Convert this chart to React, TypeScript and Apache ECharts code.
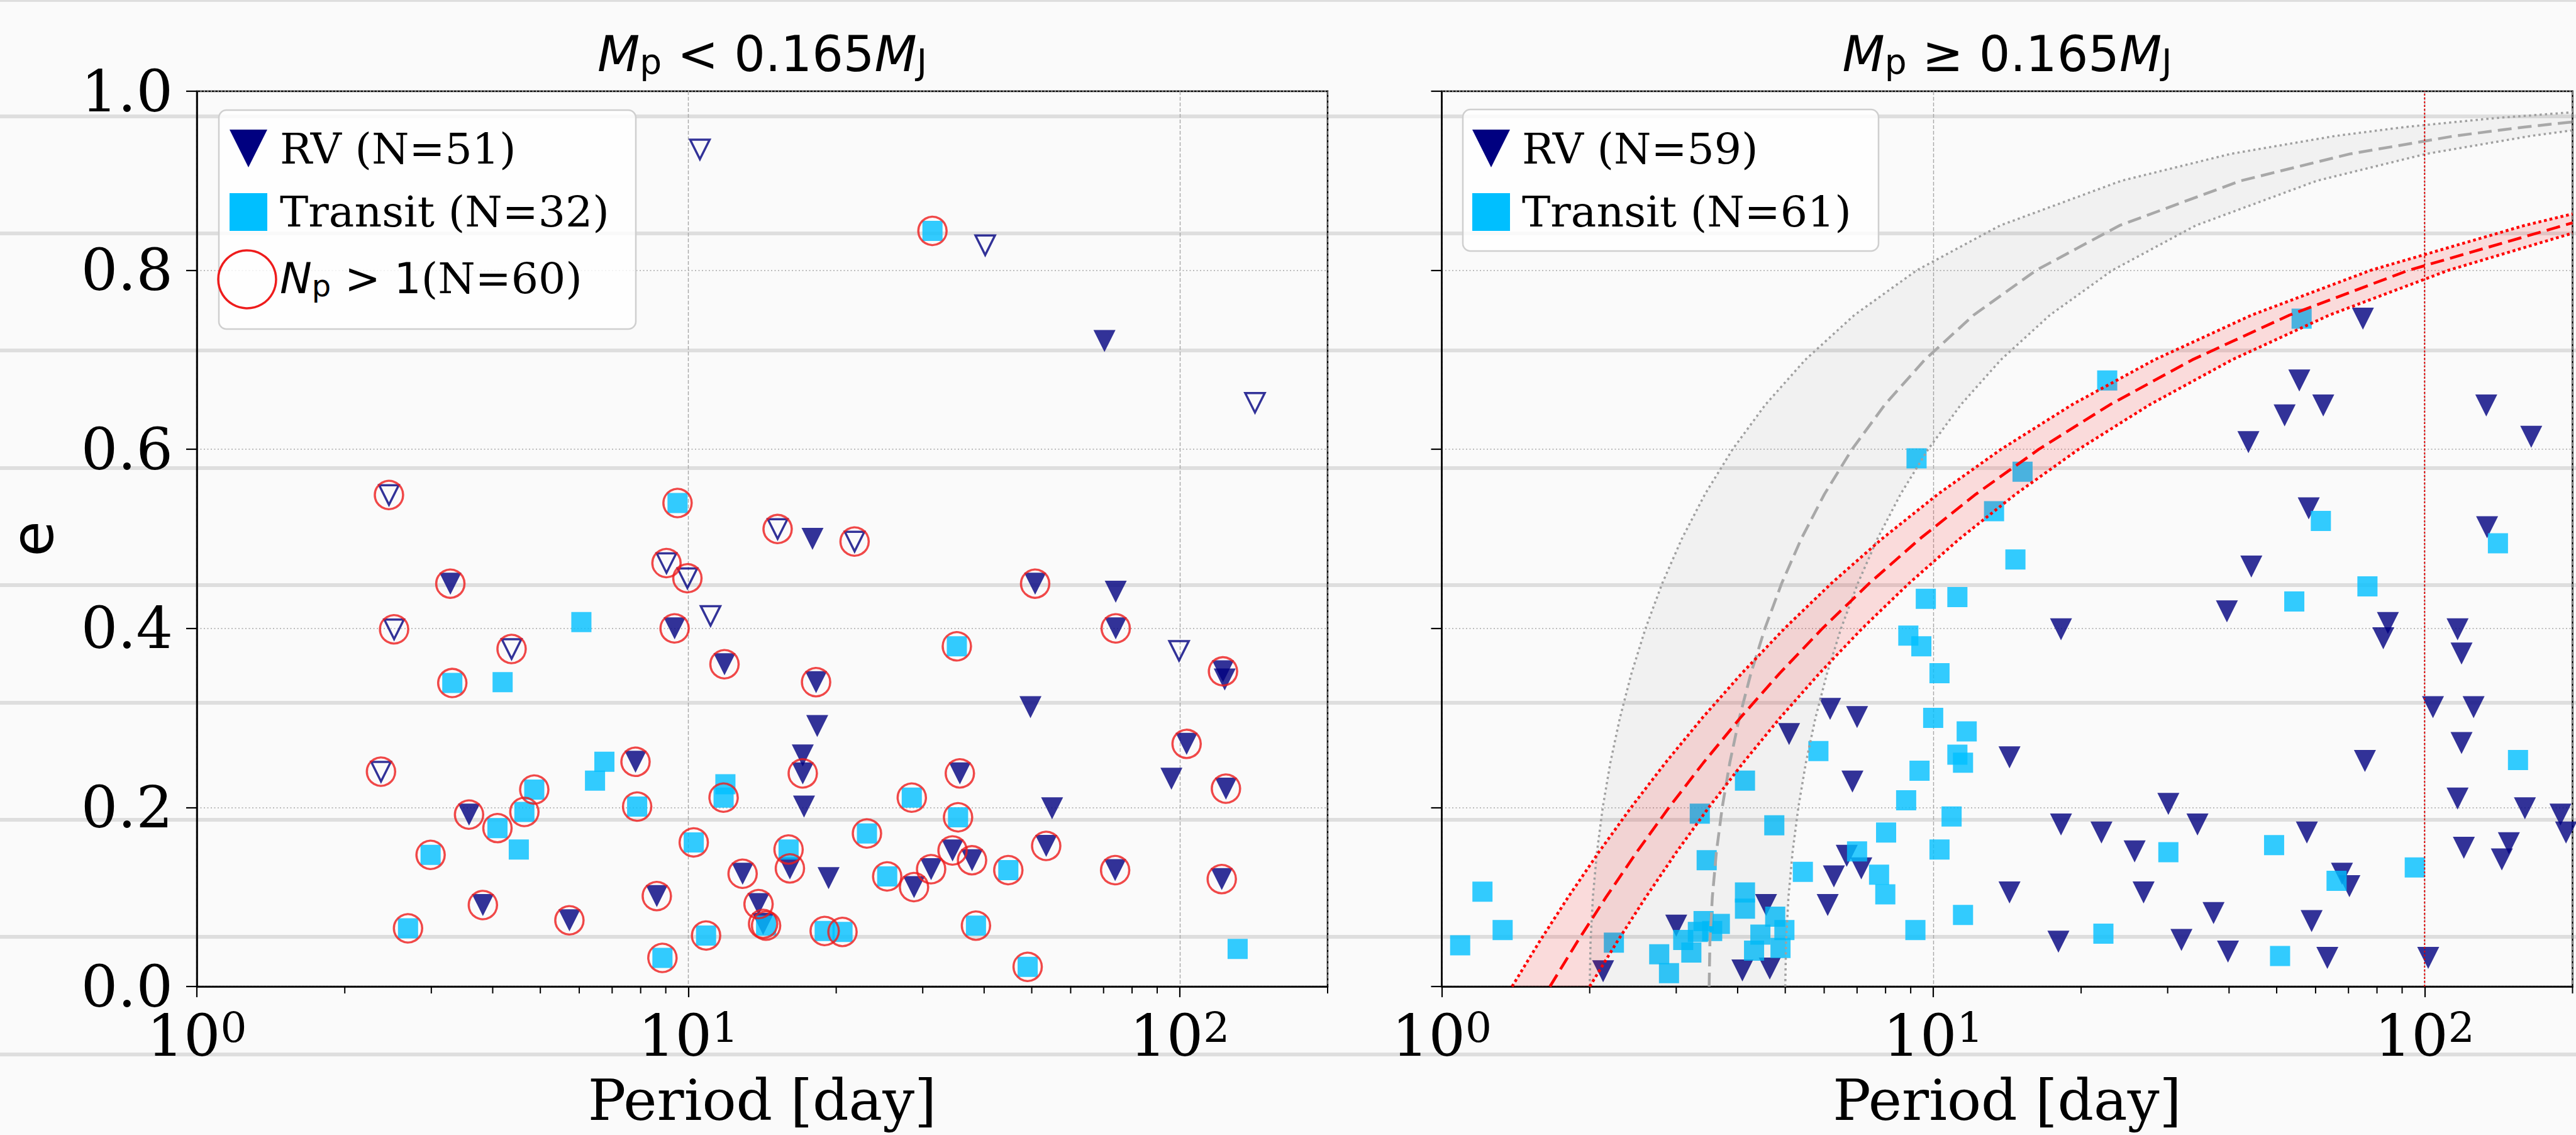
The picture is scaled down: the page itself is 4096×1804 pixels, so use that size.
import React, { useEffect, useRef } from "react";
import * as echarts from "echarts";

// ---------- Left panel (M_p < 0.165 M_J): [period (day), eccentricity, N_p>1 flag] ----------
const lowRvFilled: number[][] = [
  [3.28, 0.45, 1], [9.38, 0.4, 1], [70.3, 0.721, 0], [17.9, 0.5, 0],
  [11.85, 0.36, 1], [18.2, 0.34, 1], [18.3, 0.291, 0], [50.8, 0.45, 1],
  [74.1, 0.441, 0], [74.1, 0.4, 1], [122.5, 0.352, 1], [123.5, 0.343, 0],
  [49.7, 0.312, 0], [103.3, 0.271, 1], [96.2, 0.232, 0], [124.2, 0.221, 1],
  [17.1, 0.238, 1], [17.1, 0.258, 0], [35.7, 0.238, 1], [17.2, 0.201, 0],
  [55.0, 0.199, 0], [53.5, 0.157, 1], [7.81, 0.251, 1], [3.58, 0.192, 1],
  [12.9, 0.126, 1], [3.82, 0.091, 1], [5.73, 0.074, 1], [8.63, 0.101, 1],
  [16.1, 0.132, 1], [19.3, 0.121, 0], [31.2, 0.131, 1], [28.8, 0.111, 1],
  [34.5, 0.152, 1], [37.8, 0.141, 1], [73.9, 0.13, 1], [121.8, 0.12, 1],
  [13.9, 0.092, 1], [14.2, 0.07, 1],
];
const lowRvOpen: number[][] = [
  [2.37, 0.24, 1], [2.46, 0.549, 1], [2.52, 0.399, 1], [4.37, 0.377, 1],
  [9.03, 0.473, 1], [9.96, 0.456, 1], [11.1, 0.414, 0], [10.56, 0.935, 0],
  [40.2, 0.828, 0], [142.3, 0.652, 0], [15.2, 0.511, 1], [21.8, 0.497, 1],
  [99.7, 0.375, 0],
];
const lowTransit: number[][] = [
  [3.31, 0.339, 1], [4.19, 0.34, 0], [6.06, 0.407, 0], [9.51, 0.54, 1],
  [31.4, 0.844, 1], [35.2, 0.38, 1], [11.9, 0.226, 0], [11.8, 0.211, 1],
  [28.5, 0.211, 1], [35.4, 0.189, 1], [10.26, 0.161, 1], [16.0, 0.153, 1],
  [23.1, 0.171, 1], [6.75, 0.251, 0], [6.46, 0.23, 0], [4.86, 0.22, 1],
  [4.64, 0.195, 1], [4.09, 0.177, 1], [4.52, 0.153, 0], [7.87, 0.201, 1],
  [2.99, 0.147, 1], [2.69, 0.065, 1], [8.86, 0.032, 1], [10.87, 0.057, 1],
  [25.4, 0.123, 1], [44.8, 0.13, 1], [18.95, 0.062, 1], [20.6, 0.061, 1],
  [38.5, 0.068, 1], [49.05, 0.022, 1], [131.2, 0.042, 0], [14.4, 0.068, 1],
];

// ---------- Right panel (M_p >= 0.165 M_J): [period (day), eccentricity] ----------
const highRv: number[][] = [
  [6.17, 0.31], [7.0, 0.301], [5.09, 0.282], [14.3, 0.256], [6.85, 0.229],
  [6.67, 0.146], [7.14, 0.132], [6.28, 0.123], [6.1, 0.091], [14.3, 0.105],
  [2.13, 0.017], [3.0, 0.068], [4.57, 0.091], [4.09, 0.018], [4.65, 0.02],
  [58.1, 0.534], [134, 0.513], [44.4, 0.469], [39.6, 0.419], [18.2, 0.399],
  [84.2, 0.406], [82.4, 0.389], [116.7, 0.399], [118.9, 0.372], [104, 0.312],
  [125.8, 0.312], [118.9, 0.272], [75.6, 0.252], [116.7, 0.21], [160, 0.199],
  [189, 0.192], [194, 0.172], [30.1, 0.204], [18.2, 0.181], [22.0, 0.172],
  [34.5, 0.181], [57.6, 0.172], [25.7, 0.151], [120.2, 0.155], [148.4, 0.16],
  [143.6, 0.142], [67.9, 0.126], [70.3, 0.112], [26.8, 0.105], [37.2, 0.082],
  [58.9, 0.073], [17.98, 0.05], [32.0, 0.052], [39.8, 0.039], [63.4, 0.032],
  [101.7, 0.032], [74.9, 0.746], [55.6, 0.677], [62.2, 0.649], [51.9, 0.638],
  [133.5, 0.649], [43.8, 0.608], [164.8, 0.614],
];
const highTransit: number[][] = [
  [13.3, 0.531], [14.7, 0.477], [9.66, 0.433], [11.2, 0.435], [8.9, 0.392],
  [9.46, 0.38], [10.3, 0.35], [10.0, 0.3], [11.7, 0.285], [5.84, 0.263],
  [11.2, 0.259], [11.5, 0.25], [9.38, 0.241], [4.14, 0.23], [8.81, 0.208],
  [10.9, 0.19], [3.35, 0.193], [4.75, 0.18], [8.02, 0.172], [10.3, 0.153],
  [3.46, 0.141], [5.43, 0.128], [7.0, 0.151], [7.76, 0.125], [7.99, 0.103],
  [11.5, 0.08], [9.2, 0.063], [1.21, 0.106], [1.33, 0.063], [1.09, 0.046],
  [2.24, 0.049], [2.77, 0.036], [2.9, 0.015], [3.1, 0.052], [3.32, 0.061],
  [3.41, 0.073], [3.68, 0.07], [4.14, 0.105], [4.14, 0.087], [4.77, 0.078],
  [4.98, 0.063], [4.89, 0.043], [4.32, 0.04], [61.5, 0.52], [141, 0.495],
  [76.5, 0.447], [54.3, 0.43], [154.9, 0.253], [30.1, 0.15], [49.4, 0.158],
  [95.5, 0.133], [66.2, 0.118], [22.2, 0.059], [50.8, 0.034], [56.2, 0.746],
  [22.6, 0.677], [9.25, 0.59], [15.2, 0.575], [3.22, 0.038], [3.55, 0.062],
  [4.45, 0.058],
];

// ---------- Curves: [period, eccentricity] ----------
const grayInner: number[][] = [
  [2.0, 0], [2.008, 0.05], [2.03, 0.1], [2.069, 0.15], [2.126, 0.2], [2.203, 0.25],
  [2.304, 0.3], [2.433, 0.35], [2.598, 0.4], [2.808, 0.45], [3.079, 0.5], [3.433, 0.55],
  [3.906, 0.6], [4.557, 0.65], [5.491, 0.7], [6.911, 0.75], [9.259, 0.8], [13.68, 0.85],
  [24.15, 0.9], [40.28, 0.93], [65.7, 0.95], [91.1, 0.96], [139.2, 0.97], [200, 0.9765],
];
const grayMid: number[][] = [
  [3.5, 0], [3.513, 0.05], [3.553, 0.1], [3.621, 0.15], [3.721, 0.2], [3.856, 0.25],
  [4.032, 0.3], [4.258, 0.35], [4.546, 0.4], [4.914, 0.45], [5.389, 0.5], [6.008, 0.55],
  [6.836, 0.6], [7.975, 0.65], [9.61, 0.7], [12.09, 0.75], [16.2, 0.8], [23.94, 0.85],
  [42.26, 0.9], [70.49, 0.93], [115.0, 0.95], [159.5, 0.96], [200, 0.9657],
];
const grayOuter: number[][] = [
  [5.0, 0], [5.019, 0.05], [5.076, 0.1], [5.174, 0.15], [5.316, 0.2], [5.508, 0.25],
  [5.76, 0.3], [6.083, 0.35], [6.495, 0.4], [7.021, 0.45], [7.698, 0.5], [8.584, 0.55],
  [9.766, 0.6], [11.39, 0.65], [13.73, 0.7], [17.28, 0.75], [23.15, 0.8], [34.21, 0.85],
  [60.38, 0.9], [100.7, 0.93], [164.3, 0.95], [200, 0.9563],
];
const redInner: number[][] = [
  [1.39, 0], [1.58, 0.05], [1.809, 0.1], [2.087, 0.15], [2.428, 0.2], [2.853, 0.25],
  [3.39, 0.3], [4.081, 0.35], [4.985, 0.4], [6.196, 0.45], [7.863, 0.5], [10.23, 0.55],
  [13.74, 0.6], [19.18, 0.65], [28.2, 0.7], [44.48, 0.75], [77.7, 0.8], [159.5, 0.85],
  [200, 0.863],
];
const redMid: number[][] = [
  [1.66, 0], [1.887, 0.05], [2.16, 0.1], [2.492, 0.15], [2.9, 0.2], [3.408, 0.25],
  [4.049, 0.3], [4.873, 0.35], [5.953, 0.4], [7.4, 0.45], [9.39, 0.5], [12.22, 0.55],
  [16.4, 0.6], [22.91, 0.65], [33.67, 0.7], [53.12, 0.75], [92.79, 0.8], [200, 0.853],
];
const redOuter: number[][] = [
  [2.0, 0], [2.274, 0.05], [2.603, 0.1], [3.002, 0.15], [3.494, 0.2], [4.106, 0.25],
  [4.878, 0.3], [5.871, 0.35], [7.172, 0.4], [8.915, 0.45], [11.31, 0.5], [14.72, 0.55],
  [19.76, 0.6], [27.6, 0.65], [40.57, 0.7], [64.0, 0.75], [111.8, 0.8], [200, 0.8415],
];
const redVertical: number[][] = [[100, 0], [100, 1]];

// ---------- Axis ticks / labels ----------
const minorTicks: number[] = [2, 3, 4, 5, 6, 7, 8, 9, 20, 30, 40, 50, 60, 70, 80, 90, 200];
const legendLow: string[] = ["RV (N=51)", "Transit (N=32)", "(N=60)"];
const legendHigh: string[] = ["RV (N=59)", "Transit (N=61)"];

const TRI = "path://M0,0L2,0L1,2Z";
const NAVY = "#000080";
const CYAN = "#00bfff";
const RED = "#ee1c1c";
const SERIF = "DejaVu Serif";
const SANS = "DejaVu Sans";

export default function App() {
  const ref = useRef<HTMLDivElement>(null);

  useEffect(() => {
    document.body.style.margin = "0";
    document.body.style.background = "#fafafa";
    const chart = echarts.init(ref.current as HTMLDivElement, null, { renderer: "svg" });

    const gridTop = 145;
    const gridH = 1423;
    const gridW = 1798;
    const lefts = [313, 2292.5];

    const xAxis = (gridIndex: number) => ({
      type: "log",
      logBase: 10,
      min: 1,
      max: 200,
      gridIndex,
      axisLine: { show: true, onZero: false, lineStyle: { color: "#000", width: 2.5 } },
      axisTick: { show: true, length: 17, lineStyle: { color: "#000", width: 2.2 } },
      axisLabel: {
        margin: 32,
        showMaxLabel: false,
        formatter: (v: number) => {
          const k = Math.log10(v);
          if (Math.abs(k - Math.round(k)) > 1e-6) return "";
          return `{b|10}{s|${Math.round(k)}}`;
        },
        rich: {
          b: { fontFamily: SERIF, fontSize: 92, lineHeight: 92, color: "#000" },
          s: { fontFamily: SERIF, fontSize: 66, lineHeight: 42, verticalAlign: "top", color: "#000" },
        },
      },
      splitLine: { show: true, lineStyle: { color: "#a8a8a8", width: 1.4, type: [6, 3] } },
      name: "Period [day]",
      nameLocation: "middle",
      nameGap: 140,
      nameTextStyle: { fontFamily: SERIF, fontSize: 90, lineHeight: 80, color: "#000" },
    });

    const yAxis = (gridIndex: number, labels: boolean) => ({
      type: "value",
      min: 0,
      max: 1,
      interval: 0.2,
      gridIndex,
      axisLine: { show: true, onZero: false, lineStyle: { color: "#000", width: 2.5 } },
      axisTick: { show: true, length: 17, lineStyle: { color: "#000", width: 2.2 } },
      axisLabel: {
        show: labels,
        margin: 38,
        formatter: (v: number) => v.toFixed(1),
        fontFamily: SERIF,
        fontSize: 92,
        color: "#000",
      },
      splitLine: { show: true, lineStyle: { color: "#a8a8a8", width: 1.6, type: [2, 3.5] } },
      name: labels ? "e" : "",
      nameLocation: "middle",
      nameGap: 215,
      nameTextStyle: { fontFamily: SANS, fontSize: 92, color: "#000" },
    });

    const xy = (d: number[]) => [d[0], d[1]];

    const scatter = (idx: number, data: number[][], kind: string, z: number) => {
      const base: any = {
        type: "scatter",
        xAxisIndex: idx,
        yAxisIndex: idx,
        data: data.map(xy),
        silent: true,
        z,
      };
      if (kind === "rv") {
        base.symbol = TRI;
        base.symbolSize = 35;
        base.itemStyle = { color: NAVY };
      } else if (kind === "open") {
        base.symbol = TRI;
        base.symbolSize = 31;
        base.itemStyle = { color: "rgba(0,0,0,0)", borderColor: NAVY, borderWidth: 3.5 };
      } else if (kind === "transit") {
        base.symbol = "rect";
        base.symbolSize = 32;
        base.itemStyle = { color: CYAN };
      } else {
        base.symbol = "circle";
        base.symbolSize = 45;
        base.itemStyle = { color: "rgba(0,0,0,0)", borderColor: RED, borderWidth: 3.5 };
      }
      return base;
    };

    const minorTickSeries = (idx: number) => ({
      type: "custom",
      xAxisIndex: idx,
      yAxisIndex: idx,
      silent: true,
      z: 6,
      data: minorTicks.map((p) => [p, 0]),
      renderItem: (_params: any, api: any) => {
        const pt = api.coord([api.value(0), 0]);
        return {
          type: "line",
          shape: { x1: pt[0], y1: pt[1], x2: pt[0], y2: pt[1] + 11 },
          style: { stroke: "#000", lineWidth: 2 },
        };
      },
    });

    const band = (upper: number[][], lower: number[][], fill: string) => ({
      type: "custom",
      xAxisIndex: 1,
      yAxisIndex: 1,
      silent: true,
      z: 4,
      data: [[upper[0][0], 0]],
      renderItem: (_params: any, api: any) => {
        const pts = upper
          .map((d) => api.coord(d))
          .concat(lower.slice().reverse().map((d) => api.coord(d)));
        return { type: "polygon", shape: { points: pts }, style: { fill } };
      },
    });

    const curve = (data: number[][], color: string, width: number, type: number[]) => ({
      type: "line",
      xAxisIndex: 1,
      yAxisIndex: 1,
      data,
      showSymbol: false,
      symbol: "none",
      smooth: false,
      silent: true,
      z: 5,
      lineStyle: { color, width, type, cap: "butt", join: "round" },
    });

    const multi = [...lowRvFilled, ...lowRvOpen, ...lowTransit].filter((d) => d[2] === 1);

    const series: any[] = [
      scatter(0, lowRvFilled, "rv", 2),
      scatter(0, lowRvOpen, "open", 2),
      scatter(0, lowTransit, "transit", 3),
      scatter(0, multi, "circle", 4),
      scatter(1, highRv, "rv", 2),
      scatter(1, highTransit, "transit", 3),
      band(grayInner, grayOuter, "rgba(0,0,0,0.035)"),
      band(redInner, redOuter, "rgba(255,0,0,0.12)"),
      curve(grayInner, "#a0a0a0", 3.5, [3.5, 5]),
      curve(grayOuter, "#a0a0a0", 3.5, [3.5, 5]),
      curve(grayMid, "#a8a8a8", 4.5, [22, 10]),
      curve(redInner, "#ff0000", 4.5, [4.5, 4.5]),
      curve(redOuter, "#ff0000", 4.5, [4.5, 4.5]),
      curve(redMid, "#ff0000", 4.5, [22, 10]),
      curve(redVertical, "#e00000", 2, [3, 3]),
      minorTickSeries(0),
      minorTickSeries(1),
    ];

    const richTitle = {
      i: { fontFamily: SANS, fontStyle: "italic", fontWeight: "normal", fontSize: 78, lineHeight: 78, color: "#000" },
      n: { fontFamily: SANS, fontWeight: "normal", fontSize: 78, lineHeight: 78, color: "#000" },
      s: { fontFamily: SANS, fontWeight: "normal", fontSize: 55, lineHeight: 48, verticalAlign: "bottom", color: "#000" },
    };

    const bandYs = [1.5, 185, 371, 557, 744, 930, 1117, 1303, 1489, 1676];
    const legendFont = 68;
    const graphic: any[] = [
      ...bandYs.map((y) => ({
        type: "line",
        z: -5,
        silent: true,
        shape: { x1: 0, y1: y, x2: 4096, y2: y },
        style: { stroke: "#dedede", lineWidth: y < 5 ? 3 : 6 },
      })),
      // left legend
      {
        type: "rect", z: 20, silent: true,
        shape: { x: 348, y: 175, width: 663, height: 348, r: 12 },
        style: { fill: "rgba(255,255,255,0.8)", stroke: "#cfcfcf", lineWidth: 2.5 },
      },
      { type: "polygon", z: 21, silent: true, shape: { points: [[365, 206], [425, 206], [395, 266]] }, style: { fill: NAVY } },
      { type: "rect", z: 21, silent: true, shape: { x: 365, y: 307, width: 60, height: 60 }, style: { fill: CYAN } },
      { type: "circle", z: 21, silent: true, shape: { cx: 393, cy: 444, r: 46 }, style: { fill: "none", stroke: RED, lineWidth: 3.5 } },
      {
        type: "text", z: 21, silent: true, x: 445, y: 236,
        style: { text: legendLow[0], fontFamily: SERIF, fontSize: legendFont, fill: "#000", verticalAlign: "middle" },
      },
      {
        type: "text", z: 21, silent: true, x: 445, y: 336,
        style: { text: legendLow[1], fontFamily: SERIF, fontSize: legendFont, fill: "#000", verticalAlign: "middle" },
      },
      {
        type: "text", z: 21, silent: true, x: 445, y: 442,
        style: {
          text: `{i|N}{s|p}{m| > 1}{n|${legendLow[2]}}`,
          verticalAlign: "middle",
          fill: "#000",
          rich: {
            i: { fontFamily: SANS, fontStyle: "italic", fontSize: legendFont, lineHeight: 72, fill: "#000" },
            s: { fontFamily: SANS, fontSize: 48, lineHeight: 42, verticalAlign: "bottom", fill: "#000" },
            m: { fontFamily: SANS, fontSize: legendFont, lineHeight: 72, fill: "#000" },
            n: { fontFamily: SERIF, fontSize: legendFont, lineHeight: 72, fill: "#000" },
          },
        },
      },
      // right legend
      {
        type: "rect", z: 20, silent: true,
        shape: { x: 2326, y: 174, width: 661, height: 225, r: 12 },
        style: { fill: "rgba(255,255,255,0.8)", stroke: "#cfcfcf", lineWidth: 2.5 },
      },
      { type: "polygon", z: 21, silent: true, shape: { points: [[2341, 206], [2401, 206], [2371, 266]] }, style: { fill: NAVY } },
      { type: "rect", z: 21, silent: true, shape: { x: 2341, y: 307, width: 60, height: 60 }, style: { fill: CYAN } },
      {
        type: "text", z: 21, silent: true, x: 2420, y: 236,
        style: { text: legendHigh[0], fontFamily: SERIF, fontSize: legendFont, fill: "#000", verticalAlign: "middle" },
      },
      {
        type: "text", z: 21, silent: true, x: 2420, y: 336,
        style: { text: legendHigh[1], fontFamily: SERIF, fontSize: legendFont, fill: "#000", verticalAlign: "middle" },
      },
    ];

    const option: any = {
      animation: false,
      backgroundColor: "#fafafa",
      title: [
        {
          text: "{i|M}{s|p}{n| < 0.165}{i|M}{s|J}",
          left: lefts[0] + gridW / 2,
          top: 47,
          textAlign: "center",
          padding: 0,
          textStyle: { fontWeight: "normal", rich: richTitle },
        },
        {
          text: "{i|M}{s|p}{n| ≥ 0.165}{i|M}{s|J}",
          left: lefts[1] + gridW / 2,
          top: 47,
          textAlign: "center",
          padding: 0,
          textStyle: { fontWeight: "normal", rich: richTitle },
        },
      ],
      grid: lefts.map((l) => ({
        left: l,
        top: gridTop,
        width: gridW,
        height: gridH,
        show: true,
        borderColor: "#000",
        borderWidth: 2.5,
        backgroundColor: "transparent",
        containLabel: false,
        outerBoundsMode: "none",
      })),
      xAxis: [xAxis(0), xAxis(1)],
      yAxis: [yAxis(0, true), yAxis(1, false)],
      graphic,
      series,
    };

    chart.setOption(option);
    return () => chart.dispose();
  }, []);

  return <div ref={ref} style={{ width: 4096, height: 1804 }} />;
}
